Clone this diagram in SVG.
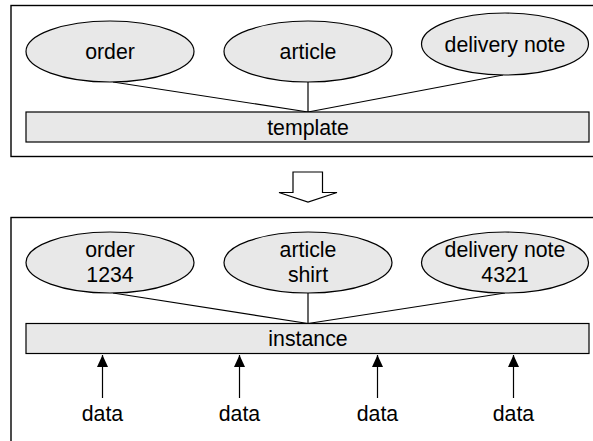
<svg xmlns="http://www.w3.org/2000/svg" width="593" height="441" viewBox="0 0 593 441">
<defs>
<style>
.frame{fill:#fff;stroke:#000;stroke-width:1.4}
.node{fill:#e8e8e8;stroke:#000;stroke-width:1.2}
.conn{stroke:#000;stroke-width:1.2;fill:none}
text{font-family:"Liberation Sans",Arial,sans-serif;font-size:21.3px;fill:#000;text-anchor:middle}
</style>
<marker id="ah" viewBox="0 0 12 11" refX="12" refY="5.5" markerWidth="12" markerHeight="11" markerUnits="userSpaceOnUse" orient="auto">
<path d="M0,0 L12,5.5 L0,11 z" fill="#000"/>
</marker>
</defs>
<rect width="593" height="441" fill="#fff"/>
<g id="frame-top"><rect class="frame" x="11" y="5.5" width="600" height="151"/></g>
<g id="frame-bottom"><rect class="frame" x="11" y="217.5" width="600" height="240"/></g>
<g id="transform-arrow"><polygon class="conn" fill="#fff" points="293,172 322.5,172 322.5,192.5 337,192.5 308,202 279,192.5 293,192.5"/></g>
<g id="connectors">
<line class="conn" x1="113" y1="82" x2="308" y2="112"/>
<line class="conn" x1="308" y1="82" x2="308" y2="112"/>
<line class="conn" x1="503" y1="75" x2="308" y2="112"/>
<line class="conn" x1="113" y1="293" x2="308" y2="323.5"/>
<line class="conn" x1="308" y1="293" x2="308" y2="323.5"/>
<line class="conn" x1="505" y1="293" x2="308" y2="323.5"/>
<line class="conn" x1="102.5" y1="398" x2="102.5" y2="355" marker-end="url(#ah)"/>
<line class="conn" x1="239.5" y1="398" x2="239.5" y2="355" marker-end="url(#ah)"/>
<line class="conn" x1="377.5" y1="398" x2="377.5" y2="355" marker-end="url(#ah)"/>
<line class="conn" x1="513.5" y1="398" x2="513.5" y2="355" marker-end="url(#ah)"/>
</g>
<g id="order-t"><ellipse class="node" cx="110" cy="51.5" rx="84" ry="30.5"/><text x="110" y="58.5">order</text></g>
<g id="article-t"><ellipse class="node" cx="308" cy="51.5" rx="84" ry="30.5"/><text x="308" y="58.5">article</text></g>
<g id="delivery-t"><ellipse class="node" cx="505" cy="44" rx="83.5" ry="31"/><text x="505" y="51.5">delivery note</text></g>
<g id="template"><rect class="node" x="26" y="112" width="563" height="30"/><text x="308" y="134.5">template</text></g>
<g id="order-i"><ellipse class="node" cx="110" cy="262.5" rx="84" ry="30.5"/><text x="110" y="257">order</text><text x="110" y="282">1234</text></g>
<g id="article-i"><ellipse class="node" cx="308" cy="262.5" rx="84" ry="30.5"/><text x="308" y="257">article</text><text x="308" y="282">shirt</text></g>
<g id="delivery-i"><ellipse class="node" cx="505" cy="262.5" rx="83.5" ry="30.5"/><text x="505" y="257">delivery note</text><text x="505" y="282">4321</text></g>
<g id="instance"><rect class="node" x="26" y="323.5" width="563" height="30"/><text x="308" y="346">instance</text></g>
<g id="data1"><text x="102.5" y="420.5">data</text></g>
<g id="data2"><text x="239.5" y="420.5">data</text></g>
<g id="data3"><text x="377.5" y="420.5">data</text></g>
<g id="data4"><text x="513.5" y="420.5">data</text></g>
</svg>
